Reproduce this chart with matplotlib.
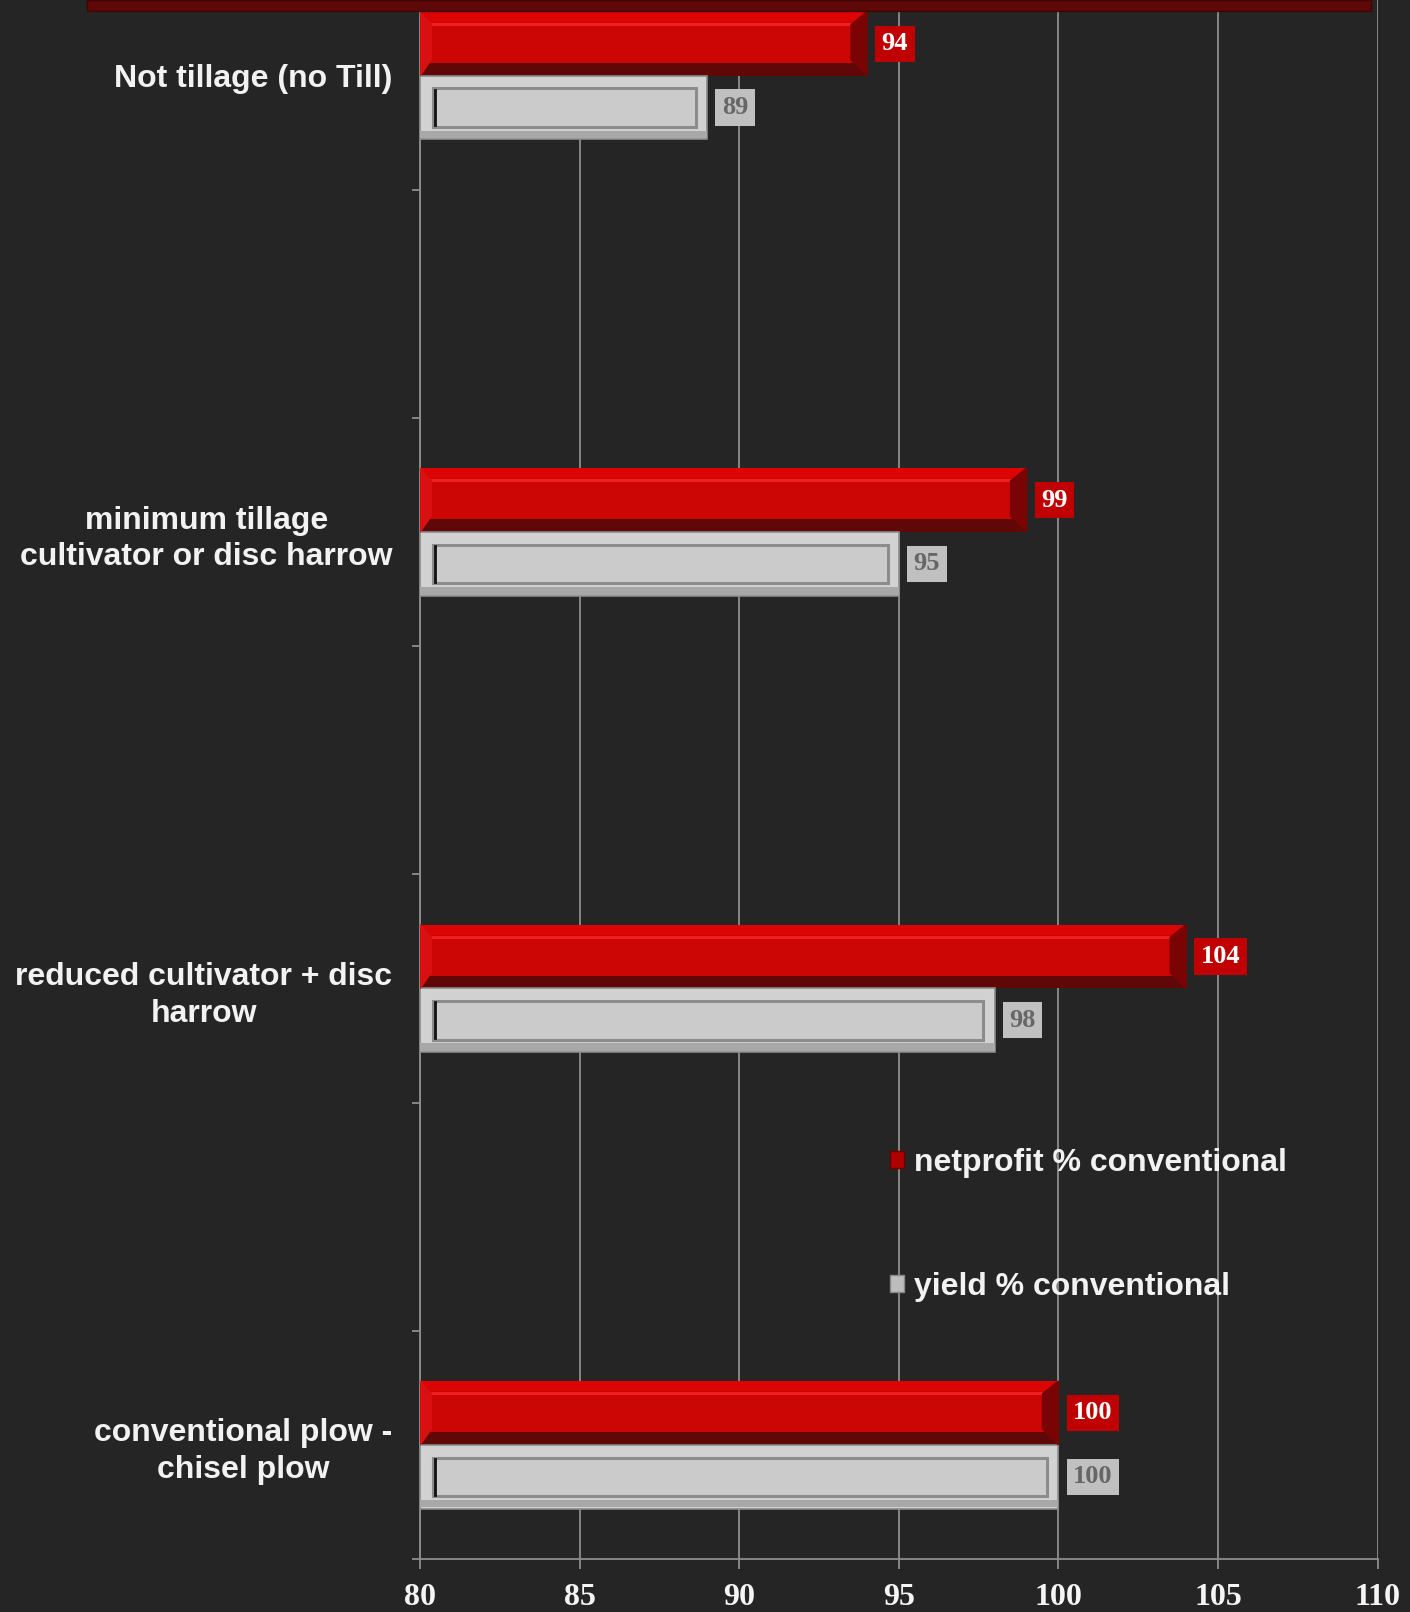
import numpy as np
import matplotlib
matplotlib.use('Agg')
import matplotlib.pyplot as plt
from matplotlib.patches import Rectangle, Polygon, Patch

# data, bottom to top
categories = ['conventional plow -\nchisel plow',
              'reduced cultivator + disc\nharrow',
              'minimum tillage\ncultivator or disc harrow',
              'Not tillage (no Till)']
netprofit = [100, 104, 99, 94]
yield_pct = [100, 98, 95, 89]
series_names = ['netprofit % conventional', 'yield % conventional']
xticks = [80, 85, 90, 95, 100, 105, 110]

BG = '#252525'
GRID = '#8e8e8e'

fig = plt.figure(figsize=(14.1, 16.12), dpi=100, facecolor=BG)
ax = fig.add_axes([0.298, 0.0329, 0.679, 0.991])
ax.set_facecolor(BG)

# every category slot is followed by an empty one
pos = np.arange(len(categories)) * 2
top = 2 * len(categories) - 1.5
h = 0.28
base = 80

ax.set_xlim(80, 110)
ax.set_ylim(-0.5, top)
ax.set_xticks(xticks)
ax.grid(axis='x', color=GRID, lw=1.3)
ax.set_axisbelow(True)

# netprofit bars (red, bevelled)
for y, v in zip(pos + h / 2, netprofit):
    w = v - base
    ax.barh(y, w, left=base, height=h, color='#600707', zorder=3)
    ax.barh(y + h * 0.1, w, left=base, height=h * 0.8, color='#cc0505', zorder=3)
    ax.barh(y + h * 0.42, w, left=base, height=h * 0.16, color='#dc0404', zorder=3)
    ax.barh(y + h * 0.3, w, left=base, height=h * 0.05, color='#ee2020', zorder=3)
    d = 0.5
    ax.add_patch(Polygon([(v - d, y + h * 0.3), (v, y + h / 2), (v, y - h / 2), (v - d, y - h * 0.25)],
                         closed=True, color='#7a0404', zorder=4))
    ax.add_patch(Polygon([(base, y + h / 2), (base + 0.35, y + h * 0.3), (base + 0.35, y - h * 0.25), (base, y - h / 2)],
                         closed=True, color='#d81010', zorder=4))
    ax.text(v + 0.46, y, f'{v}', color='white', fontsize=19, fontweight='bold',
            family='Liberation Serif', ha='left', va='center', zorder=5,
            bbox=dict(boxstyle='square,pad=0.25', fc='#c00000', ec='none'))

# yield bars (grey, framed)
for y, v in zip(pos - h / 2, yield_pct):
    w = v - base
    ax.barh(y, w, left=base, height=h, color='#d2d2d2', edgecolor='#8a8a8a', lw=1.2, zorder=3)
    ax.barh(y - h * 0.42, w, left=base, height=h * 0.12, color='#a8a8a8', zorder=3)
    ax.add_patch(Rectangle((base + 0.4, y - h * 0.3), w - 0.75, h * 0.6,
                           fc='#cbcbcb', ec='#8c8c8c', lw=2.2, zorder=4))
    ax.plot([base + 0.45, base + 0.45], [y - h * 0.28, y + h * 0.28], color='#111111', lw=2, zorder=5)
    ax.text(v + 0.46, y, f'{v}', color='#666666', fontsize=19, fontweight='bold',
            family='Liberation Serif', ha='left', va='center', zorder=5,
            bbox=dict(boxstyle='square,pad=0.25', fc='#c0c0c0', ec='none'))

# axes styling
for s in ['top', 'right']:
    ax.spines[s].set_visible(False)
for s in ['left', 'bottom']:
    ax.spines[s].set_color(GRID)
    ax.spines[s].set_linewidth(1.3)

ax.set_yticks(pos)
ax.set_yticklabels(categories, fontsize=23, fontweight='bold', family='Liberation Sans',
                   color='#f2f2f2', multialignment='center', linespacing=1.3)
ax.tick_params(axis='y', length=0, pad=20)
ax.set_yticks(np.arange(-0.5, top + 0.01, 1), minor=True)
ax.tick_params(axis='y', which='minor', length=6, color=GRID, width=1.3)
ax.tick_params(axis='x', length=7, color=GRID, width=1.3, pad=10)
for lab in ax.get_xticklabels():
    lab.set_family('Liberation Serif')
    lab.set_fontweight('bold')
    lab.set_fontsize(23)
    lab.set_color('#f5f5f5')

# legend
handles = [Patch(fc='#b00000', ec='#6a0000'), Patch(fc='#bdbdbd', ec='#888888')]
leg = fig.legend(handles, series_names, loc='upper left', bbox_to_anchor=(0.631, 0.288),
                 frameon=False, handlelength=0.45, handleheight=0.45, handletextpad=0.3,
                 labelspacing=2.95, borderpad=0, borderaxespad=0,
                 prop={'family': 'Liberation Sans', 'weight': 'bold', 'size': 23})
for t in leg.get_texts():
    t.set_color('#f2f2f2')

# dark red strip at the very top of the slide
fig.patches.append(Rectangle((87 / 1410, 1 - 11 / 1612), (1371 - 87) / 1410, 11 / 1612,
                             transform=fig.transFigure, fc='#5e0808', ec='#400404', lw=1, zorder=10))

fig.savefig('out.png', dpi=100, facecolor=BG)
